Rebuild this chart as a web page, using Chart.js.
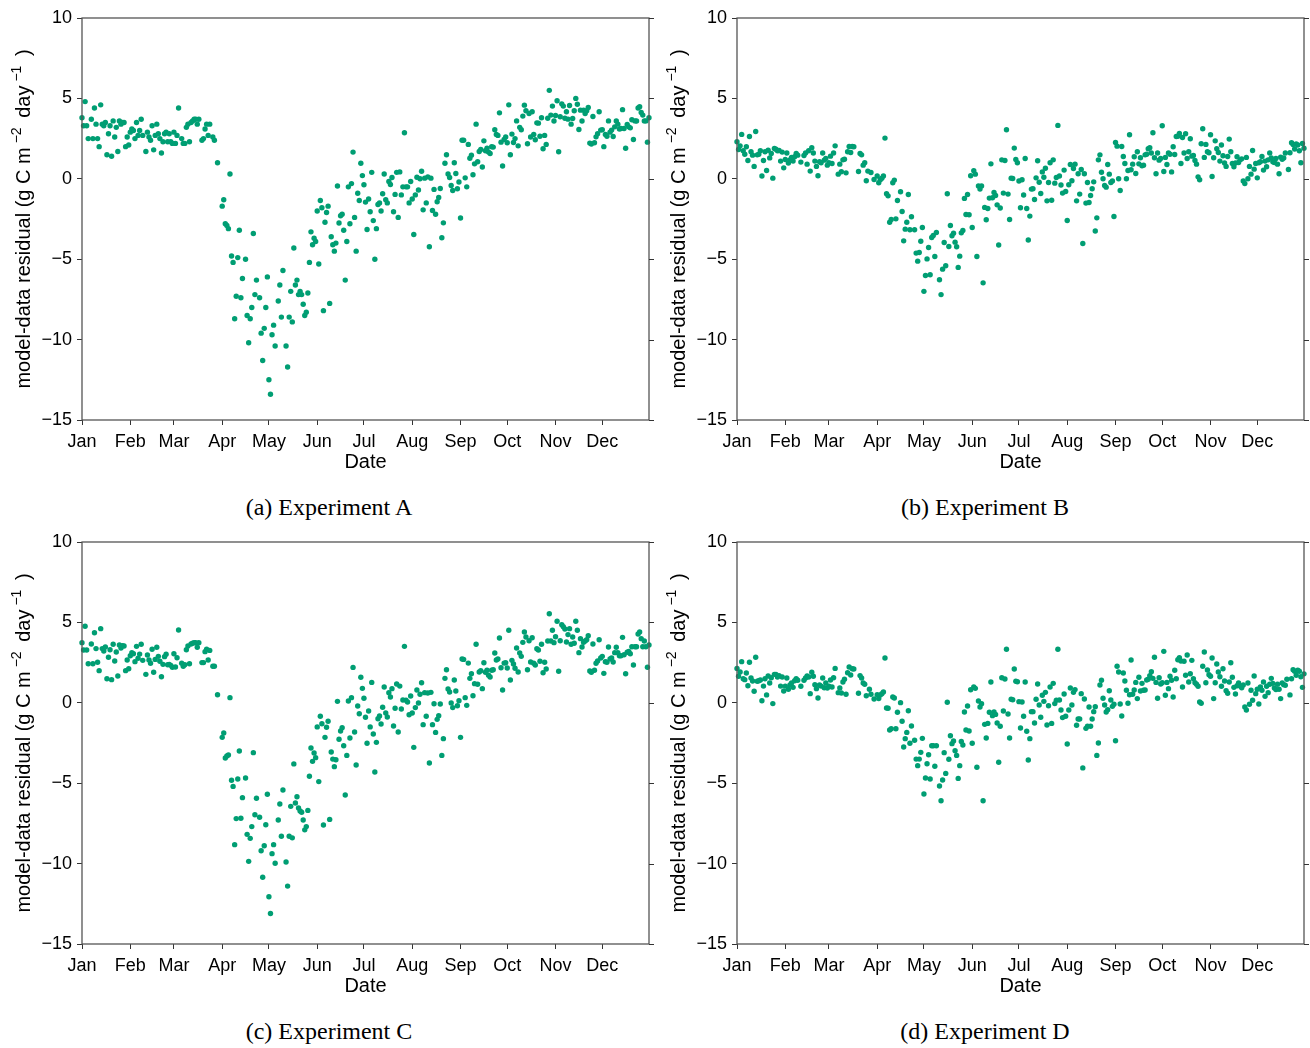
<!DOCTYPE html>
<html>
<head>
<meta charset="utf-8">
<script src="https://cdn.jsdelivr.net/npm/chart.js@4.4.1/dist/chart.umd.min.js"></script>
<style>
  body { margin: 0; background: #fff; width: 1310px; height: 1048px; position: relative; overflow: hidden; }
  canvas { position: absolute; }
  .cap { position: absolute; width: 400px; text-align: center; font-family: "Liberation Serif", "Times New Roman", serif; font-size: 24px; color: #000; }
</style>
</head>
<body>
<canvas id="chartA" width="655" height="480" style="left:0px;top:0px"></canvas>
<canvas id="chartB" width="655" height="480" style="left:655px;top:0px"></canvas>
<canvas id="chartC" width="655" height="480" style="left:0px;top:524px"></canvas>
<canvas id="chartD" width="655" height="480" style="left:655px;top:524px"></canvas>
<div class="cap" style="left:129px;top:494px">(a) Experiment A</div>
<div class="cap" style="left:785px;top:494px">(b) Experiment B</div>
<div class="cap" style="left:129px;top:1018px">(c) Experiment C</div>
<div class="cap" style="left:785px;top:1018px">(d) Experiment D</div>
<script>
const monthLabels = ['Jan', 'Feb', 'Mar', 'Apr', 'May', 'Jun', 'Jul', 'Aug', 'Sep', 'Oct', 'Nov', 'Dec'];
const monthStarts = [0, 31, 59, 90, 120, 151, 181, 212, 243, 273, 304, 334];
const yTicks = [10, 5, 0, -5, -10, -15];

// daily residuals, one row per month (null = no value)
const residA = [
  [3.8,3.3,4.8,3.3,2.5,null,3.7,2.5,4.4,3.4,2.5,2.0,4.6,3.4,3.3,3.5,1.5,2.8,3.3,1.4,3.6,2.6,3.2,1.7,3.6,3.4,3.5,3.5,2.0,2.6,2.1],
  [2.9,3.1,3.0,2.5,3.5,2.7,3.0,3.7,2.7,null,1.7,2.9,2.6,2.4,3.3,1.8,2.7,3.4,2.8,2.5,1.6,2.3,2.8,2.9,2.3,2.8,2.3,2.2],
  [2.9,2.2,2.7,4.4,null,2.5,2.2,2.2,3.2,3.4,2.3,3.5,3.6,3.7,3.7,3.4,3.7,null,2.4,2.5,3.1,3.4,2.7,3.4,null,2.6,2.4,null,1.0,null,null],
  [-1.7,-1.3,-2.8,-2.9,-3.1,0.3,-4.8,-5.2,-8.7,-7.3,-4.9,-3.2,-7.4,-6.2,null,-5.0,-8.5,-10.2,-8.7,-8.0,-3.4,-7.2,-6.3,null,-7.4,-9.6,-11.3,-9.3,-8.0,-6.1],
  [-12.5,-13.4,-9.7,-9.1,-10.4,null,-7.6,-6.6,-8.6,-5.7,null,-10.4,-11.7,-8.6,-7.0,-8.9,-4.3,-6.6,-6.3,-7.2,-7.0,-7.2,-7.8,-8.5,-8.3,-7.1,-5.2,-3.3,-4.1,-3.7,-3.9],
  [-2.0,-5.3,-1.35,-1.8,-8.2,-2.7,-2.1,-1.7,-7.75,-3.6,-4.1,-4.5,-4.0,-0.45,-2.75,-2.3,-2.2,-3.2,-6.3,-3.9,-0.5,-2.8,-0.3,1.66,-2.4,-4.5,-0.9,-1.35,0.97,0.2],
  [-0.37,-1.45,-3.15,-1.26,-2.05,0.4,-2.6,-5.0,-3.1,-1.6,-1.5,-2.0,-0.93,0.3,-1.3,-1.5,-0.17,-0.35,0.08,-2.05,-0.97,0.4,-2.4,0.43,-1.0,-0.5,2.86,-0.5,-0.5,-1.5,-0.17],
  [-1.26,-3.46,-1.0,0.1,-0.7,0.0,0.47,-1.93,0.04,-1.5,0.12,-4.23,0.04,-1.97,-0.66,-2.2,-1.43,-1.16,-0.6,-3.67,-2.74,0.97,1.5,0.3,0.08,-0.42,-0.73,1.0,0.33,-0.62,-0.2],
  [-2.44,2.4,2.4,0.06,-0.5,2.14,1.28,1.47,0.25,0.93,3.4,1.06,1.7,1.82,0.73,2.36,1.74,1.9,1.66,1.57,1.99,1.97,3.05,2.76,2.7,4.1,2.28,0.8,2.44,2.6],
  [2.24,4.6,1.5,2.78,2.26,2.5,3.6,2.05,3.2,3.05,3.9,4.58,4.23,2.18,4.06,2.6,4.17,2.76,2.43,3.48,3.46,2.65,3.8,1.87,2.7,2.14,3.77,5.5,3.96,4.52,3.59],
  [3.94,4.85,1.68,3.86,4.66,4.52,3.77,4.17,3.71,4.56,3.4,3.75,4.23,5.0,4.64,3.07,4.27,3.59,4.27,4.06,4.23,4.44,2.22,2.16,3.87,2.24,2.61,2.8,4.17,3.03],
  [3.05,2.0,2.76,2.65,3.6,2.9,3.03,2.63,3.23,3.6,3.4,3.1,3.13,4.3,3.13,1.9,3.38,3.23,3.17,3.67,2.44,3.6,3.59,4.4,4.48,4.12,3.96,3.6,3.6,2.28,3.8]
];

const residB = [
  [2.3,1.82,2.05,2.76,1.74,1.53,1.99,1.14,2.63,1.68,1.47,0.77,2.94,1.49,1.53,1.74,0.17,1.14,1.68,0.52,1.78,1.3,1.57,0.04,1.88,1.84,1.74,1.76,1.1,1.66,0.68],
  [1.2,1.6,0.98,1.18,1.33,1.1,1.37,1.57,1.47,null,1.04,null,1.45,1.6,0.91,1.74,0.48,1.93,1.6,1.1,0.77,0.19,1.06,1.0,1.6,1.16,1.26,0.85],
  [1.0,1.41,0.95,1.6,2.05,null,0.29,0.91,0.44,1.18,1.22,0.37,1.68,2.01,1.64,2.01,1.99,null,null,0.45,1.57,1.49,0.85,1.0,-0.12,0.48,null,0.39,null,-0.04,null],
  [0.17,-0.25,-0.06,0.04,0.17,2.53,-0.93,-1.06,-2.7,-2.53,-0.25,-0.08,-2.49,-1.35,null,-0.81,-2.03,-3.86,-3.13,-2.7,-0.98,-3.17,-2.36,null,-3.17,-4.62,-5.12,-4.58,-3.88,-3.03],
  [-7.0,-6.01,-4.98,-4.27,-5.97,-3.65,-3.52,-4.83,-3.34,null,-6.28,-7.2,-5.62,-3.96,-5.41,-0.93,-4.21,-2.9,-3.54,-3.38,-3.94,-4.23,-5.51,-4.81,-3.36,-3.21,-1.22,-2.22,-0.98,-2.24,0.19],
  [-3.03,0.5,0.29,-4.83,-0.44,-0.64,-0.44,-6.47,-1.78,-2.55,-1.85,-1.2,0.93,-1.18,-0.85,-1.04,-1.62,-4.12,-1.82,1.18,-0.89,1.14,3.05,-0.95,-2.53,0.04,0.02,1.91,1.2,1.0],
  [-0.14,-1.8,-0.06,-1.01,1.26,-1.85,-3.81,-2.32,-0.64,-0.62,-1.29,0.06,1.12,-0.21,-0.91,0.43,0.1,0.66,-1.37,-0.23,1.0,-1.33,1.18,-0.27,0.08,3.32,0.17,-0.39,-0.89,0.54,-0.79],
  [-2.59,-0.37,0.89,-0.12,0.64,0.91,-1.37,0.31,-0.95,0.58,-4.02,0.31,-1.51,-0.23,-1.47,-1.04,-0.62,-0.19,-3.25,-2.43,1.18,1.49,0.41,0.0,-0.42,-0.52,0.89,0.29,-0.23,-0.14,-2.34],
  [2.26,2.03,0.0,-0.73,2.01,1.39,0.95,0.0,0.52,2.74,0.56,0.91,1.37,0.33,1.68,0.93,1.31,0.81,0.85,1.49,1.53,1.87,1.93,1.6,2.86,1.31,0.31,1.6,1.16,1.26],
  [3.3,0.45,1.33,0.89,1.6,1.53,0.43,1.99,1.51,2.63,2.65,2.82,0.95,2.57,1.6,2.8,1.26,1.68,2.49,1.41,1.45,1.14,0.91,0.12,-0.06,2.18,3.11,1.33,2.14,1.68,1.62],
  [2.74,0.14,1.31,2.36,1.87,1.64,1.1,2.1,1.43,0.98,0.77,1.39,2.47,1.68,0.95,0.75,0.98,1.37,1.01,1.18,1.24,-0.14,-0.29,1.33,0.0,0.77,0.29,1.76,0.6,0.95],
  [0.06,1.0,1.06,1.39,0.54,1.1,0.75,1.18,1.6,1.29,1.06,1.01,1.26,0.91,0.31,1.35,1.22,1.29,1.6,null,0.58,1.62,2.24,2.14,1.85,2.16,2.1,1.74,1.0,2.2,1.9]
];

const residC = [
  [3.74,3.28,4.76,3.28,2.43,null,3.66,2.43,4.36,3.37,2.52,2.0,4.61,3.37,3.22,3.47,1.5,2.83,3.3,1.44,3.64,2.6,3.16,1.67,3.6,3.41,3.55,3.53,2.0,2.66,2.12],
  [2.93,3.12,3.05,2.56,3.51,2.77,3.03,3.64,2.64,null,1.77,2.97,2.66,2.46,3.33,1.9,2.7,3.45,2.89,2.58,1.62,2.39,2.87,3.02,2.37,2.39,2.33,2.21],
  [3.05,2.23,2.8,4.53,null,2.46,2.27,2.37,3.3,3.53,2.43,3.66,3.7,3.74,3.74,3.45,3.74,null,2.5,2.5,3.18,3.33,2.66,3.26,null,2.27,2.27,null,0.5,null,null],
  [-2.15,-1.88,-3.43,-3.31,-3.25,0.32,-4.82,-5.2,-8.82,-7.2,-4.74,-3.0,-7.18,-5.9,null,-4.68,-8.18,-9.86,-8.43,-7.7,-3.1,-6.96,-5.94,null,-7.12,-9.2,-10.85,-8.89,-7.58,-5.69],
  [-12.06,-13.1,-9.38,-8.82,-9.98,null,-7.29,-6.29,-8.3,-5.42,null,-9.9,-11.4,-8.3,-6.44,-8.4,-3.8,-6.23,-5.84,-6.54,-6.73,-6.81,-7.29,-7.9,-7.7,-6.69,-4.57,-2.81,-3.64,-3.12,-3.41],
  [-1.5,-4.9,-0.84,-1.3,-7.6,-2.15,-1.52,-1.15,-7.25,-3.06,-3.5,-3.97,-3.54,0.09,-2.27,-1.75,-1.55,-2.67,-5.73,-3.27,0.11,-2.19,0.32,2.2,-1.82,-3.87,-0.2,-0.68,1.59,0.9],
  [0.28,-0.9,-2.52,-0.51,-1.5,1.27,-1.94,-4.3,-2.46,-0.99,-0.82,-1.32,-0.28,0.98,-0.63,-0.88,0.63,0.36,0.88,-1.44,-0.34,1.17,-1.82,1.04,-0.39,0.17,3.51,0.16,0.05,-0.74,0.42],
  [-0.63,-2.77,-0.3,0.8,-0.01,0.53,1.25,-1.36,0.63,-0.84,0.61,-3.74,0.65,-1.36,-0.06,-1.84,-1.03,-0.8,-0.07,-3.27,-2.23,1.52,2.06,0.86,0.67,-0.01,-0.3,1.42,0.73,-0.18,0.13],
  [-2.15,2.72,2.7,0.32,-0.16,2.47,1.52,1.81,0.44,1.19,3.64,1.15,1.92,2.0,0.88,2.49,1.9,2.02,1.71,1.6,2.02,2.06,3.1,2.66,2.72,4.03,2.18,0.8,2.47,2.49],
  [2.16,4.51,1.42,2.64,2.41,2.15,3.41,1.92,3.1,2.89,3.76,4.4,4.09,2.06,3.86,2.54,4.05,2.46,2.35,3.36,3.28,2.58,3.64,1.87,2.52,2.1,3.84,5.54,3.84,4.51,3.74],
  [4.11,5.07,1.96,3.86,4.86,4.73,4.59,3.78,4.24,4.61,3.64,4.09,3.7,5.07,4.51,3.12,3.99,3.47,3.76,3.84,3.92,4.17,1.98,1.9,3.66,2.02,2.46,2.6,3.92,2.79],
  [2.89,1.83,2.56,2.52,3.47,2.72,2.79,2.54,3.12,3.45,3.12,2.93,2.93,4.07,2.99,1.81,3.14,3.2,3.05,3.49,2.35,3.49,3.49,4.28,4.4,3.99,3.49,3.84,3.49,2.21,3.6]
];

const residD = [
  [2.14,1.65,1.92,2.56,1.5,1.44,1.85,1.06,2.52,1.54,1.36,0.72,2.83,1.34,1.37,1.42,0.13,1.04,1.5,0.49,1.67,1.23,1.56,-0.05,1.77,1.77,1.6,1.69,1.04,1.6,0.73],
  [1.04,1.54,0.84,1.11,1.23,0.96,1.37,1.5,1.4,null,1.03,null,1.4,1.54,1.67,1.6,0.57,1.9,1.65,1.13,0.88,0.3,1.11,1.04,1.54,0.94,1.23,0.92],
  [1.03,1.42,0.98,1.56,2.14,null,0.63,0.92,0.61,1.29,1.46,0.53,1.87,2.23,1.73,2.12,2.1,null,null,0.59,1.69,1.54,1.23,1.15,0.44,null,0.84,0.53,null,0.24,null],
  [0.5,0.26,0.49,0.57,0.67,2.79,-0.32,-0.34,-1.69,-1.61,0.36,0.3,-1.61,-0.59,null,0.01,-1.15,-2.75,-2.23,-1.84,-0.49,-2.52,-1.44,null,-2.33,-3.5,-3.91,-3.5,-3.08,-2.21],
  [-5.67,-4.68,-3.79,-3.23,-4.74,-2.67,-2.67,-3.95,-2.67,null,-5.17,-6.09,-4.8,-3.1,-4.39,0.03,-3.51,-2.05,-2.54,-2.38,-2.98,-3.27,-4.7,-3.91,-2.4,-2.62,-0.57,-1.69,-0.2,-1.75,0.81],
  [-2.52,0.98,0.9,-4.01,0.11,-0.26,-0.06,-6.09,-1.34,-2.19,-1.28,-0.59,1.29,-0.8,-0.57,-0.72,-1.26,-3.7,-1.46,1.56,-0.51,1.48,3.33,-0.7,-2.19,0.22,0.19,2.1,1.34,1.31],
  [0.07,-1.57,0.05,-0.84,1.29,-1.77,-3.56,-2.23,-0.55,-0.55,-1.26,0.22,1.17,-0.14,-0.9,0.47,0.09,0.65,-1.38,-0.18,0.98,-1.28,1.21,-0.05,0.16,3.33,0.17,-0.45,-0.92,0.55,-0.84],
  [-2.56,-0.45,0.92,-0.14,0.65,0.82,-1.4,-1.01,-1.01,0.57,-4.05,0.24,-1.59,-1.46,-0.26,-1.46,-1.01,-0.55,-0.24,-3.27,-2.5,1.11,1.4,0.28,-0.14,-0.57,-0.43,0.75,0.17,-0.22,-0.09],
  [-2.36,2.27,1.92,-0.07,-0.82,1.85,1.36,0.78,-0.03,0.5,2.66,0.53,0.8,1.27,0.26,1.59,0.73,1.21,0.78,0.8,1.42,1.46,1.69,1.93,1.52,2.83,1.27,0.28,1.56,1.17],
  [1.25,3.2,0.47,1.27,0.88,1.65,1.4,0.36,2.02,1.5,2.68,2.8,2.6,0.98,2.58,1.71,2.97,1.29,1.81,2.64,1.5,1.25,1.15,1.03,0.05,-0.03,2.27,3.16,1.25,2.04,1.75],
  [1.65,2.79,0.26,1.25,2.41,1.92,1.62,1.03,2.12,1.36,0.75,0.59,1.29,2.49,1.59,0.96,0.55,1.06,1.23,1.04,0.94,1.11,-0.26,-0.45,1.23,-0.09,0.78,0.16,1.67,0.57],
  [0.84,-0.07,0.98,0.78,1.29,0.4,1.03,0.63,1.15,1.52,1.21,0.92,0.82,1.15,0.84,0.26,1.23,1.13,1.09,1.46,null,0.49,1.5,2.06,1.96,1.71,2.02,1.96,1.62,0.96,1.8]
];

const sansFont = '"Liberation Sans", Arial, sans-serif';
// y title pieces: [text, superscript?]
const yTitleParts = [['model-data residual (g C m', false], ['\u22122', true], [' day', false], ['\u22121', true], [' )', false]];

function toPoints(months) {
  const pts = [];
  months.forEach((vals, m) => {
    vals.forEach((v, i) => {
      if (v !== null) pts.push({ x: monthStarts[m] + i, y: v });
    });
  });
  return pts;
}

// box around the plot area, right-side ticks, and the y title with raised exponents
const framePlugin = {
  id: 'frame',
  afterDraw(chart) {
    const { ctx, chartArea: a, scales } = chart;
    ctx.save();
    ctx.strokeStyle = '#555';
    ctx.lineWidth = 1.3;
    ctx.strokeRect(a.left, a.top, a.right - a.left, a.bottom - a.top);
    ctx.strokeStyle = '#333';
    ctx.lineWidth = 1;
    yTicks.forEach(v => {
      const y = Math.round(scales.y.getPixelForValue(v)) + 0.5;
      ctx.beginPath();
      ctx.moveTo(a.right, y);
      ctx.lineTo(a.right + 5, y);
      ctx.stroke();
    });

    const mainFont = '20px ' + sansFont;
    const supFont = '14px ' + sansFont;
    const gap = 4;
    let total = 0;
    yTitleParts.forEach(([t, sup]) => {
      ctx.font = sup ? supFont : mainFont;
      total += ctx.measureText(t).width + (sup ? 2 * gap : 0);
    });
    ctx.translate(24, (a.top + a.bottom) / 2);
    ctx.rotate(-Math.PI / 2);
    ctx.fillStyle = '#000';
    ctx.textBaseline = 'middle';
    ctx.textAlign = 'left';
    let x = -total / 2;
    yTitleParts.forEach(([t, sup]) => {
      ctx.font = sup ? supFont : mainFont;
      if (sup) x += gap;
      ctx.fillText(t, x, sup ? -7 : 0);
      x += ctx.measureText(t).width + (sup ? gap : 0);
    });
    ctx.restore();
  }
};

function makeChart(id, months) {
  new Chart(document.getElementById(id), {
    type: 'scatter',
    data: {
      datasets: [{
        data: toPoints(months),
        backgroundColor: '#009E73',
        borderWidth: 0,
        pointRadius: 2.7,
        clip: false
      }]
    },
    options: {
      responsive: false,
      animation: false,
      devicePixelRatio: 1,
      layout: { padding: { top: 18, right: 6, left: 0, bottom: 0 } },
      plugins: { legend: { display: false }, tooltip: { enabled: false } },
      scales: {
        x: {
          type: 'linear',
          min: 0,
          max: 364,
          afterBuildTicks: s => { s.ticks = monthStarts.map(v => ({ value: v })); },
          afterFit: s => { s.height = 60; },
          ticks: {
            autoSkip: false,
            maxRotation: 0,
            padding: 6,
            color: '#000',
            font: { family: sansFont, size: 18 },
            callback: (v, i) => monthLabels[i]
          },
          grid: { drawOnChartArea: false, tickLength: 5, tickColor: '#333' },
          border: { display: false },
          title: { display: true, text: 'Date', color: '#000', font: { family: sansFont, size: 20 }, padding: { top: 0, bottom: 6 } }
        },
        y: {
          min: -15,
          max: 10,
          afterBuildTicks: s => { s.ticks = yTicks.map(v => ({ value: v })); },
          afterFit: s => { s.width = 82; },
          ticks: {
            padding: 5,
            color: '#000',
            font: { family: sansFont, size: 18 },
            callback: v => v < 0 ? '\u2212' + Math.abs(v) : String(v)
          },
          grid: { drawOnChartArea: false, tickLength: 5, tickColor: '#333' },
          border: { display: false },
          title: { display: false }
        }
      }
    },
    plugins: [framePlugin]
  });
}

makeChart('chartA', residA);
makeChart('chartB', residB);
makeChart('chartC', residC);
makeChart('chartD', residD);
</script>
</body>
</html>
